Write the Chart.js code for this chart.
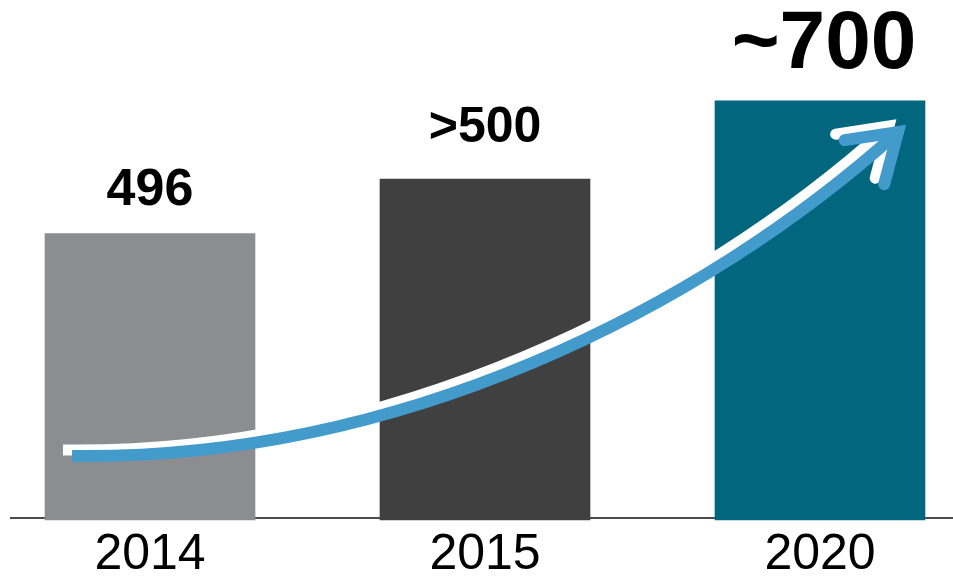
<!DOCTYPE html>
<html>
<head>
<meta charset="utf-8">
<script src="https://cdn.jsdelivr.net/npm/chart.js@4.4.0/dist/chart.umd.min.js"></script>
<style>
  html, body { margin: 0; padding: 0; background: #fff; }
  #wrap { width: 953px; height: 578px; }
</style>
</head>
<body>
<div id="wrap"><canvas id="growthChart"></canvas></div>
<script>
// --- DATA ---
const years = ["2014", "2015", "2020"];
const counts = [496, 580, 700];
const countLabels = ["496", ">500", "~700"];
const yMin = 56;
const yMax = 855;

// --- STYLE ---
const barColors = ["#8c8d91", "#404040", "#02677e"];
const labelSizes = [52, 50, 82];
const labelGaps = [29, 37, 33];
const arrowBlue = "#439bcb";

// baseline across the whole width, behind the bars
const baselinePlugin = {
  id: "baseline",
  beforeDatasetsDraw(chart) {
    const ctx = chart.ctx;
    const y = chart.chartArea.bottom - 2;
    ctx.save();
    ctx.strokeStyle = "#111";
    ctx.lineWidth = 1.5;
    ctx.beginPath();
    ctx.moveTo(10, y);
    ctx.lineTo(chart.width, y);
    ctx.stroke();
    ctx.restore();
  }
};

// value text over each bar
const valueLabelPlugin = {
  id: "valueLabels",
  afterDatasetsDraw(chart) {
    const ctx = chart.ctx;
    const bars = chart.getDatasetMeta(0).data;
    ctx.save();
    ctx.fillStyle = "#000";
    ctx.textAlign = "center";
    ctx.textBaseline = "alphabetic";
    bars.forEach((bar, i) => {
      ctx.font = `bold ${labelSizes[i]}px "Liberation Sans", Arial, sans-serif`;
      ctx.fillText(countLabels[i], bar.x + (i === 2 ? 4 : 0), bar.y - labelGaps[i]);
    });
    ctx.restore();
  }
};

// growth arrow sweeping from the first bar to the last
function strokeArrow(ctx, p0, p1, p2, p3, dx, dy, color, width) {
  ctx.strokeStyle = color;
  ctx.lineWidth = width;
  ctx.beginPath();
  ctx.moveTo(p0.x + dx, p0.y + dy);
  ctx.bezierCurveTo(p1.x + dx, p1.y + dy, p2.x + dx, p2.y + dy, p3.x + dx, p3.y + dy);
  ctx.lineCap = "butt";
  ctx.stroke();

  const ang = Math.atan2(p3.y - p2.y, p3.x - p2.x);
  const len = 54;
  const spread = 0.58;
  ctx.lineCap = "round";
  ctx.lineJoin = "miter";
  ctx.beginPath();
  ctx.moveTo(p3.x + dx + len * Math.cos(ang + Math.PI - spread), p3.y + dy + len * Math.sin(ang + Math.PI - spread));
  ctx.lineTo(p3.x + dx, p3.y + dy);
  ctx.lineTo(p3.x + dx + len * Math.cos(ang + Math.PI + spread), p3.y + dy + len * Math.sin(ang + Math.PI + spread));
  ctx.stroke();
}

const arrowPlugin = {
  id: "growthArrow",
  afterDatasetsDraw(chart) {
    const ctx = chart.ctx;
    const bars = chart.getDatasetMeta(0).data;
    const bottom = chart.chartArea.bottom;
    const first = bars[0].x;
    const last = bars[bars.length - 1].x;
    const p0 = { x: first - 78, y: bottom - 64 };
    const p1 = { x: first + 250, y: bottom - 60 };
    const p2 = { x: last - 120, y: bottom - 210 };
    const p3 = { x: last + 78, y: bottom - 388 };
    ctx.save();
    strokeArrow(ctx, p0, p1, p2, p3, -9, -6, "#ffffff", 11);
    strokeArrow(ctx, p0, p1, p2, p3, 0, 0, arrowBlue, 12);
    ctx.restore();
  }
};

new Chart(document.getElementById("growthChart"), {
  type: "bar",
  data: {
    labels: years,
    datasets: [{
      data: counts,
      base: yMin,
      backgroundColor: barColors,
      barThickness: 210,
      clip: false
    }]
  },
  options: {
    responsive: true,
    maintainAspectRatio: false,
    animation: false,
    layout: { padding: { left: 150, right: 133, top: 0, bottom: 0 } },
    plugins: {
      legend: { display: false },
      tooltip: { enabled: false }
    },
    scales: {
      x: {
        offset: false,
        grid: { display: false, drawTicks: false },
        border: { display: false },
        afterFit(scale) { scale.height = 58; },
        ticks: {
          color: "#000",
          padding: 10,
          font: { family: "'Liberation Sans', Arial, sans-serif", size: 50, lineHeight: 1 }
        }
      },
      y: {
        display: false,
        min: yMin,
        max: yMax
      }
    }
  },
  plugins: [baselinePlugin, valueLabelPlugin, arrowPlugin]
});
</script>
</body>
</html>
